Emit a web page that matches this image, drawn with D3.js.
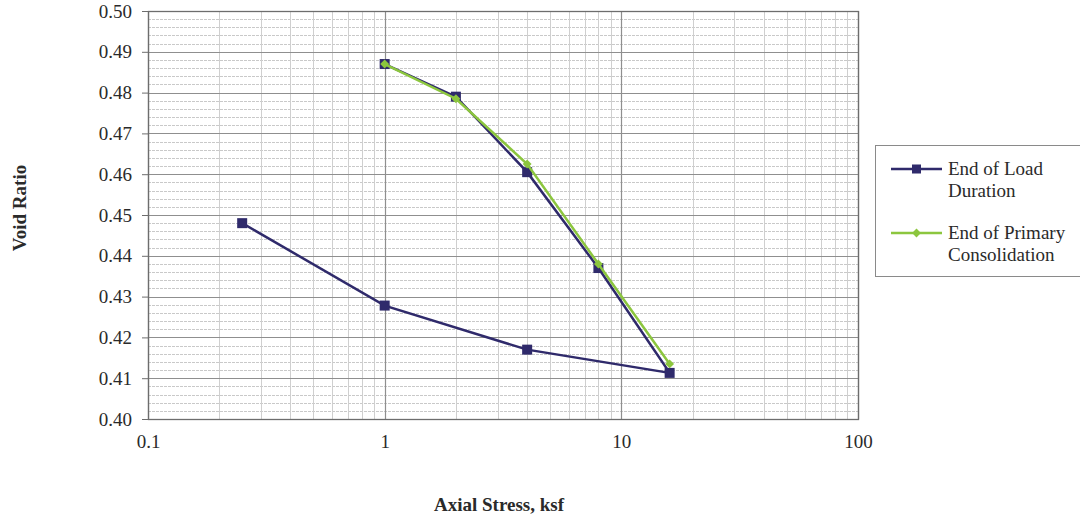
<!DOCTYPE html>
<html>
<head>
<meta charset="utf-8">
<script src="https://cdn.jsdelivr.net/npm/d3@7/dist/d3.min.js"></script>
<style>
  html, body { margin: 0; padding: 0; background: #fff; }
  svg { display: block; }
  svg text { font-family: "Liberation Serif", "Times New Roman", serif !important; fill: #2a2a2a; }
</style>
</head>
<body>
<svg id="chart" width="1080" height="518" font-family="Liberation Serif"></svg>
<script>
// Consolidation test: void ratio vs axial stress (log scale)
const stressLoad = [1, 2, 4, 8, 16, 4, 1, 0.25];
const voidLoad   = [0.487, 0.479, 0.4605, 0.437, 0.4113, 0.417, 0.4278, 0.448];

const stressPrimary = [1, 2, 4, 8, 16];
const voidPrimary   = [0.487, 0.4785, 0.4625, 0.438, 0.4135];

const xTicks = [0.1, 1, 10, 100];
const yTicks = [0.40, 0.41, 0.42, 0.43, 0.44, 0.45, 0.46, 0.47, 0.48, 0.49, 0.50];
const seriesNames = [["End of Load", "Duration"], ["End of Primary", "Consolidation"]];
const xTitle = "Axial Stress, ksf";
const yTitle = "Void Ratio";

const FS = "19px";
const svg = d3.select("#chart");
const plot = { left: 148, right: 858, top: 11, bottom: 419 };

const x = d3.scaleLog().domain([0.1, 100]).range([plot.left, plot.right]);
const y = d3.scaleLinear().domain([0.40, 0.50]).range([plot.bottom, plot.top]);

const colLoad = "#2f2a6b";
const colPrimary = "#8cc63e";

// grid: minor horizontal every 0.002
const g = svg.append("g");
const yMinor = d3.range(0, 51).map(i => 0.40 + i * 0.002);
g.selectAll("line.hmin").data(yMinor).join("line")
  .attr("x1", plot.left).attr("x2", plot.right)
  .attr("y1", d => Math.round(y(d)) + 0.5).attr("y2", d => Math.round(y(d)) + 0.5)
  .attr("stroke", "#c9c9c9").attr("stroke-width", 1)
  .attr("stroke-dasharray", "3,1");

// minor vertical at 2..9 of each decade
const xMinor = [];
[0.1, 1, 10].forEach(dec => { for (let k = 2; k <= 9; k++) xMinor.push(dec * k); });
g.selectAll("line.vmin").data(xMinor).join("line")
  .attr("y1", plot.top).attr("y2", plot.bottom)
  .attr("x1", d => Math.round(x(d)) + 0.5).attr("x2", d => Math.round(x(d)) + 0.5)
  .attr("stroke", "#cfcfcf").attr("stroke-width", 1);

// major lines
g.selectAll("line.hmaj").data(yTicks).join("line")
  .attr("x1", plot.left).attr("x2", plot.right)
  .attr("y1", d => Math.round(y(d)) + 0.5).attr("y2", d => Math.round(y(d)) + 0.5)
  .attr("stroke", "#8f8f8f").attr("stroke-width", 1.2);
g.selectAll("line.vmaj").data(xTicks).join("line")
  .attr("y1", plot.top).attr("y2", plot.bottom)
  .attr("x1", d => Math.round(x(d)) + 0.5).attr("x2", d => Math.round(x(d)) + 0.5)
  .attr("stroke", "#8f8f8f").attr("stroke-width", 1.2);

// plot frame
svg.append("rect")
  .attr("x", plot.left + 0.5).attr("y", plot.top + 0.5)
  .attr("width", plot.right - plot.left).attr("height", plot.bottom - plot.top)
  .attr("fill", "none").attr("stroke", "#6d6d6d").attr("stroke-width", 1.3);

// axes
const yAxis = d3.axisLeft(y).tickValues(yTicks).tickFormat(d3.format(".2f")).tickSize(6).tickPadding(10);
const yg = svg.append("g").attr("transform", `translate(${plot.left},0)`).call(yAxis)
  .attr("font-family", "Liberation Serif").attr("font-size", FS);
yg.select(".domain").remove();
yg.selectAll(".tick line").attr("stroke", "#6d6d6d");
yg.selectAll("text").attr("fill", "#2a2a2a");

const xAxis = d3.axisBottom(x).tickValues(xTicks).tickFormat(d => String(d)).tickSize(0).tickPadding(16);
const xg = svg.append("g").attr("transform", `translate(0,${plot.bottom})`).call(xAxis)
  .attr("font-family", "Liberation Serif").attr("font-size", FS);
xg.select(".domain").remove();
xg.selectAll("text").attr("fill", "#2a2a2a");

// axis titles
svg.append("text")
  .attr("x", (plot.left + plot.right) / 2 - 4).attr("y", 511)
  .attr("text-anchor", "middle").style("font-size", FS).style("font-weight", "bold")
  .text(xTitle);
svg.append("text")
  .attr("transform", "translate(26,208) rotate(-90)")
  .attr("text-anchor", "middle").style("font-size", FS).style("font-weight", "bold")
  .text(yTitle);

// series
const line = d3.line().x(d => x(d[0])).y(d => y(d[1]));
const loadPts = stressLoad.map((s, i) => [s, voidLoad[i]]);
const primPts = stressPrimary.map((s, i) => [s, voidPrimary[i]]);

svg.append("path").datum(loadPts).attr("d", line)
  .attr("fill", "none").attr("stroke", colLoad).attr("stroke-width", 2.5);
svg.selectAll("rect.mload").data(loadPts).join("rect")
  .attr("x", d => x(d[0]) - 5).attr("y", d => y(d[1]) - 5)
  .attr("width", 10).attr("height", 10).attr("fill", colLoad);

svg.append("path").datum(primPts).attr("d", line)
  .attr("fill", "none").attr("stroke", colPrimary).attr("stroke-width", 2.5);
const diamond = d3.symbol().type(d3.symbolDiamond2).size(50);
svg.selectAll("path.mprim").data(primPts).join("path")
  .attr("d", diamond)
  .attr("transform", d => `translate(${x(d[0])},${y(d[1])})`)
  .attr("fill", colPrimary);

// legend
const lg = svg.append("g");
lg.append("rect").attr("x", 875.5).attr("y", 145.5).attr("width", 210).attr("height", 131)
  .attr("fill", "#fff").attr("stroke", "#8a8a8a").attr("stroke-width", 1);
const legendRows = [
  { color: colLoad, ly: 169, names: seriesNames[0], marker: "square" },
  { color: colPrimary, ly: 233, names: seriesNames[1], marker: "diamond" }
];
legendRows.forEach(r => {
  lg.append("line").attr("x1", 891).attr("x2", 942).attr("y1", r.ly).attr("y2", r.ly)
    .attr("stroke", r.color).attr("stroke-width", 2.5);
  if (r.marker === "square") {
    lg.append("rect").attr("x", 916.5 - 4.5).attr("y", r.ly - 4.5).attr("width", 9).attr("height", 9).attr("fill", r.color);
  } else {
    lg.append("path").attr("d", diamond).attr("transform", `translate(916.5,${r.ly})`).attr("fill", r.color);
  }
  lg.append("text").attr("x", 948).attr("y", r.ly + 6).style("font-size", FS).text(r.names[0]);
  lg.append("text").attr("x", 948).attr("y", r.ly + 28).style("font-size", FS).text(r.names[1]);
});
</script>
</body>
</html>
